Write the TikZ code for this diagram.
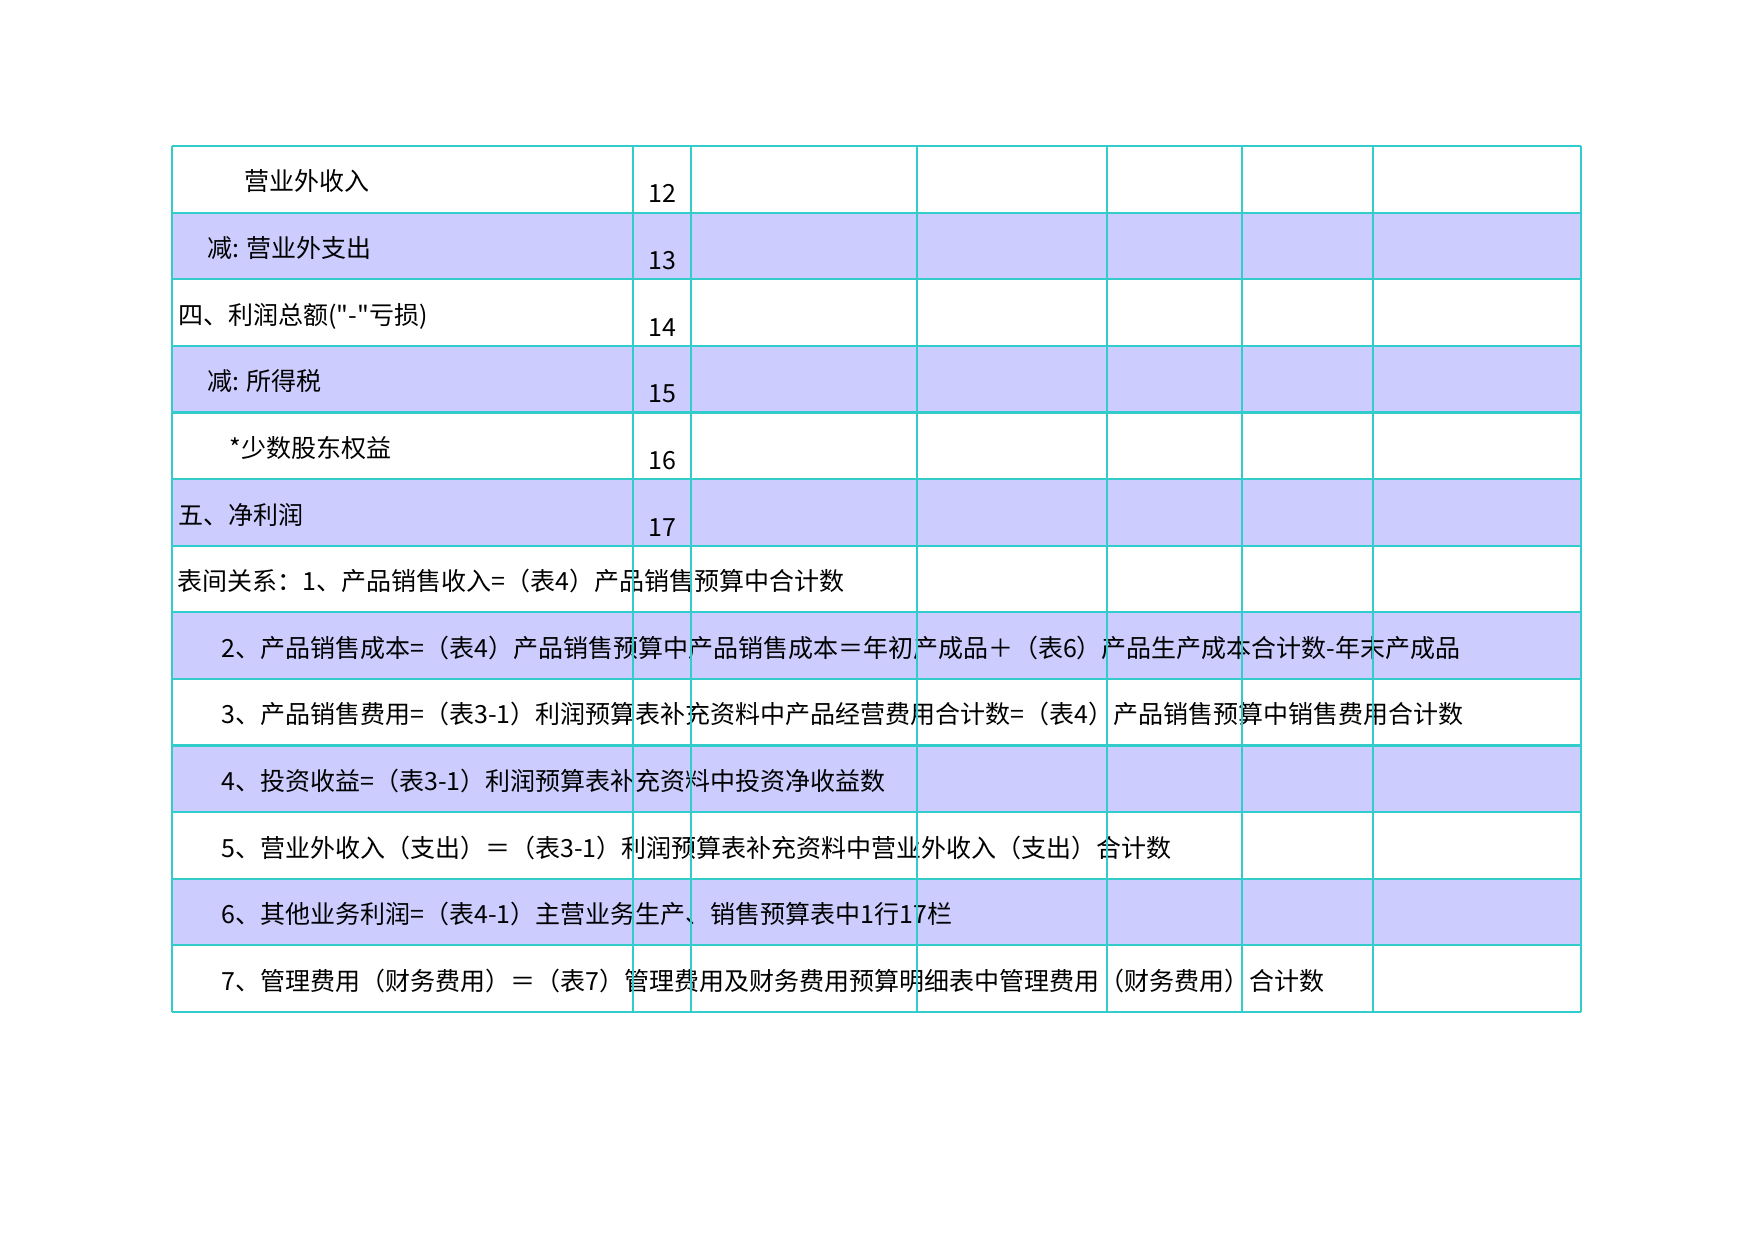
\documentclass[tikz,border=0pt]{standalone}
\usepackage{fontspec}
\setmainfont{Noto Sans CJK SC}[Ligatures=TeXOff]
\definecolor{gridc}{RGB}{51,204,204}
\definecolor{shadec}{RGB}{204,204,255}
\begin{document}
\begin{tikzpicture}[x=0.5pt,y=-0.5pt,
  txt/.style={anchor=base west, inner sep=0pt, font=\fontsize{12.5}{15}\selectfont},
  hline/.style={draw=gridc, line width=1.1pt},
  vline/.style={draw=gridc, line width=0.8pt}]
\useasboundingbox (0,0) rectangle (1754,1240);
\def\rh{66.615}
% shaded rows
\foreach \k in {1,3,5,7,9,11}{
  \fill[shadec] (172,{146+\k*\rh}) rectangle (1581,{146+(\k+1)*\rh});
}
% texts
\node[txt] (a1) at (244,{146+0*\rh+45}) {营业外收入};
\node[txt] (a2) at (207,{146+1*\rh+45}) {减: 营业外支出};
\node[txt] (a3) at (178,{146+2*\rh+45}) {四、利润总额("-"亏损)};
\node[txt] (a4) at (207,{146+3*\rh+45}) {减: 所得税};
\node[txt] (a5) at (229,{146+4*\rh+45}) {*少数股东权益};
\node[txt] (a6) at (178,{146+5*\rh+45}) {五、净利润};
\node[txt] (n1) at (648,{146+0*\rh+57}) {12};
\node[txt] (n2) at (648,{146+1*\rh+57}) {13};
\node[txt] (n3) at (648,{146+2*\rh+57}) {14};
\node[txt] (n4) at (648,{146+3*\rh+57}) {15};
\node[txt] (n5) at (648,{146+4*\rh+57}) {16};
\node[txt] (n6) at (648,{146+5*\rh+57}) {17};
\node[txt] (r1) at (177,{146+6*\rh+45}) {表间关系：1、产品销售收入=（表4）产品销售预算中合计数};
\node[txt] (r2) at (221,{146+7*\rh+45}) {2、产品销售成本=（表4）产品销售预算中产品销售成本＝年初产成品＋（表6）产品生产成本合计数-年末产成品};
\node[txt] (r3) at (221,{146+8*\rh+45}) {3、产品销售费用=（表3-1）利润预算表补充资料中产品经营费用合计数=（表4）产品销售预算中销售费用合计数};
\node[txt] (r4) at (221,{146+9*\rh+45}) {4、投资收益=（表3-1）利润预算表补充资料中投资净收益数};
\node[txt] (r5) at (221,{146+10*\rh+45}) {5、营业外收入（支出）＝（表3-1）利润预算表补充资料中营业外收入（支出）合计数};
\node[txt] (r6) at (221,{146+11*\rh+45}) {6、其他业务利润=（表4-1）主营业务生产、销售预算表中1行17栏};
\node[txt] (r7) at (221,{146+12*\rh+45}) {7、管理费用（财务费用）＝（表7）管理费用及财务费用预算明细表中管理费用（财务费用）合计数};
% grid
\foreach \k in {0,...,13}{
  \draw[hline] (172,{146+\k*\rh}) -- (1581,{146+\k*\rh});
}
\foreach \x in {172,633,691,917,1107,1242,1373,1581}{
  \draw[vline] (\x,146) -- (\x,1012);
}
\end{tikzpicture}
\end{document}
